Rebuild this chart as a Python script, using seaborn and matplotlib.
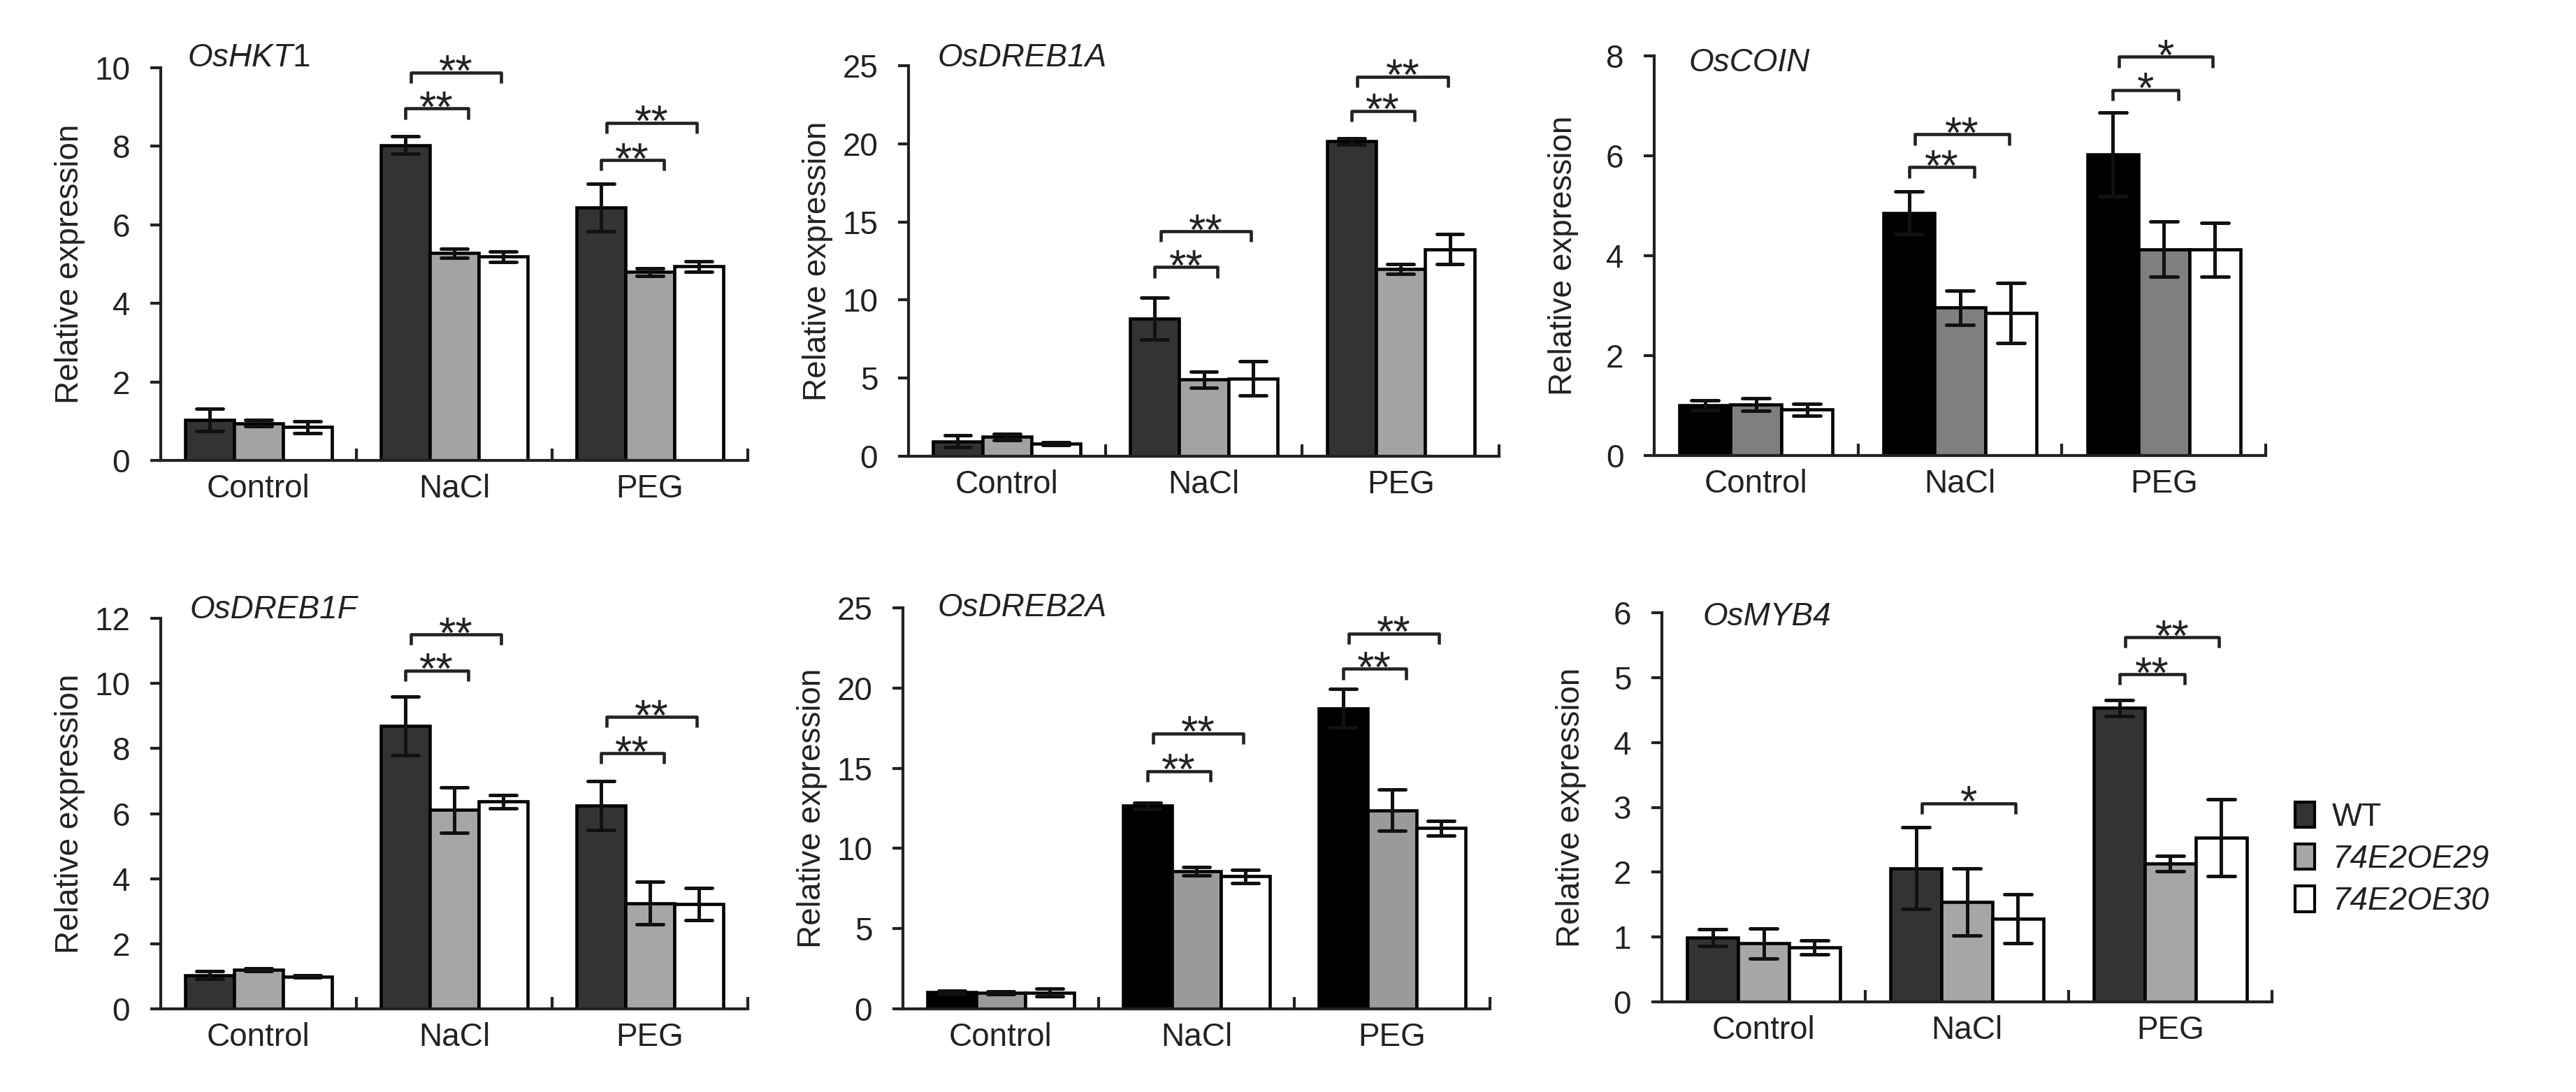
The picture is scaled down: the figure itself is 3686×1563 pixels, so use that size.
import numpy as np
import pandas as pd
import matplotlib
matplotlib.use("Agg")
import matplotlib.pyplot as plt
import seaborn as sns
from matplotlib.patches import Patch

# ---------------- data ----------------
conditions = ["Control", "NaCl", "PEG"]
lines = ["WT", "74E2OE29", "74E2OE30"]
genes = ["OsHKT1", "OsDREB1A", "OsCOIN", "OsDREB1F", "OsDREB2A", "OsMYB4"]
gene_titles = [r"$\mathit{OsHKT}$1", "OsDREB1A", "OsCOIN", "OsDREB1F", "OsDREB2A", "OsMYB4"]
y_tops = [10, 25, 8, 12, 25, 6]
y_steps = [2, 5, 2, 2, 5, 1]

# means[condition][line]
hkt1_mean = [[1.03, 0.95, 0.85], [8.03, 5.28, 5.19], [6.44, 4.80, 4.94]]
hkt1_err = [[0.29, 0.08, 0.15], [0.22, 0.12, 0.13], [0.60, 0.10, 0.13]]
dreb1a_mean = [[0.96, 1.25, 0.80], [8.80, 4.90, 4.97], [20.15, 11.98, 13.25]]
dreb1a_err = [[0.40, 0.20, 0.10], [1.35, 0.50, 1.10], [0.20, 0.30, 0.95]]
coin_mean = [[1.01, 1.02, 0.92], [4.86, 2.96, 2.85], [6.03, 4.13, 4.12]]
coin_err = [[0.10, 0.13, 0.12], [0.43, 0.34, 0.60], [0.84, 0.55, 0.54]]
dreb1f_mean = [[1.04, 1.20, 0.99], [8.70, 6.11, 6.37], [6.24, 3.25, 3.22]]
dreb1f_err = [[0.12, 0.05, 0.03], [0.90, 0.70, 0.20], [0.75, 0.65, 0.50]]
dreb2a_mean = [[1.05, 1.00, 1.02], [12.67, 8.59, 8.26], [18.74, 12.39, 11.26]]
dreb2a_err = [[0.08, 0.10, 0.25], [0.20, 0.25, 0.40], [1.20, 1.30, 0.45]]
myb4_mean = [[0.99, 0.90, 0.84], [2.06, 1.54, 1.28], [4.53, 2.13, 2.53]]
myb4_err = [[0.13, 0.23, 0.11], [0.63, 0.52, 0.38], [0.12, 0.12, 0.59]]

# significance: (condition index, compared line index, bracket height, label)
hkt1_sig = [(1, 1, 8.96, "**"), (1, 2, 9.88, "**"), (2, 1, 7.65, "**"), (2, 2, 8.60, "**")]
dreb1a_sig = [(1, 1, 12.1, "**"), (1, 2, 14.4, "**"), (2, 1, 22.1, "**"), (2, 2, 24.3, "**")]
coin_sig = [(1, 1, 5.77, "**"), (1, 2, 6.43, "**"), (2, 1, 7.32, "*"), (2, 2, 7.98, "*")]
dreb1f_sig = [(1, 1, 10.4, "**"), (1, 2, 11.5, "**"), (2, 1, 7.85, "**"), (2, 2, 8.97, "**")]
dreb2a_sig = [(1, 1, 14.83, "**"), (1, 2, 17.17, "**"), (2, 1, 21.2, "**"), (2, 2, 23.4, "**")]
myb4_sig = [(1, 2, 3.06, "*"), (2, 1, 5.05, "**"), (2, 2, 5.62, "**")]

means = [hkt1_mean, dreb1a_mean, coin_mean, dreb1f_mean, dreb2a_mean, myb4_mean]
errs = [hkt1_err, dreb1a_err, coin_err, dreb1f_err, dreb2a_err, myb4_err]
sigs = [hkt1_sig, dreb1a_sig, coin_sig, dreb1f_sig, dreb2a_sig, myb4_sig]

# ---------------- style / layout ----------------
W, H, DPI = 3686, 1563, 300
sns.set_theme(style="ticks")
plt.rcParams["font.family"] = ["Liberation Sans", "DejaVu Sans"]
plt.rcParams.update({
    "mathtext.fontset": "custom",
    "mathtext.it": "Liberation Sans:italic",
    "mathtext.rm": "Liberation Sans",
    "text.color": "#222222",
    "axes.labelcolor": "#222222",
    "xtick.color": "#222222",
    "ytick.color": "#222222",
})

# (left px, right px, y=0 px, y=top px)
layout = [
    (230, 1070, 659, 97),
    (1300, 2145, 653, 94),
    (2367, 3242, 652, 80),
    (230, 1070, 1444, 885),
    (1292, 2132, 1444, 870),
    (2378, 3251, 1434, 877),
]
title_pos = [(268, 95), (1342, 95), (2417, 102), (272, 885), (1342, 882), (2437, 895)]
palettes = [
    ["#333333", "#a3a3a6", "#ffffff"],
    ["#333333", "#a3a3a6", "#ffffff"],
    ["#000000", "#7f7f7f", "#ffffff"],
    ["#333333", "#a6a6a6", "#ffffff"],
    ["#000000", "#9a9a9a", "#ffffff"],
    ["#333333", "#a6a6a6", "#ffffff"],
]

fig = plt.figure(figsize=(W / DPI, H / DPI), dpi=DPI)

for i, gene in enumerate(genes):
    L, R, y0, yt = layout[i]
    ax = fig.add_axes([L / W, (H - y0) / H, (R - L) / W, (y0 - yt) / H])
    rows = []
    for ci, c in enumerate(conditions):
        for li, ln in enumerate(lines):
            m = means[i][ci][li]
            e = errs[i][ci][li]
            rows.append({"cond": c, "line": ln, "val": m - e})
            rows.append({"cond": c, "line": ln, "val": m + e})
    df = pd.DataFrame(rows)
    sns.barplot(
        data=df, x="cond", y="val", hue="line", order=conditions, hue_order=lines,
        palette=dict(zip(lines, palettes[i])), saturation=1, estimator="mean",
        errorbar=lambda v: (v.min(), v.max()), capsize=0.4,
        err_kws={"color": "#111111", "linewidth": 1.2},
        width=0.75, edgecolor="black", linewidth=1.1, legend=False, ax=ax,
    )
    top = y_tops[i]
    ax.set_xlim(-0.5, 2.5)
    ax.set_ylim(0, top)
    ax.set_facecolor("white")
    for s in ["top", "right"]:
        ax.spines[s].set_visible(False)
    for s in ["left", "bottom"]:
        ax.spines[s].set_linewidth(1.0)
        ax.spines[s].set_color("#222222")
    ax.set_yticks(np.arange(0, top + y_steps[i] / 2, y_steps[i]))
    ax.tick_params(axis="y", direction="out", length=3.5, width=1.0, pad=7, labelsize=11)
    ax.set_xticks([0, 1, 2])
    ax.set_xticklabels(conditions)
    ax.set_xticks([0.5, 1.5, 2.5], minor=True)
    ax.tick_params(axis="x", which="major", length=0, pad=4.5, labelsize=11)
    ax.tick_params(axis="x", which="minor", direction="in", length=4, width=1.0, bottom=True)
    ax.set_xlabel("")
    ax.set_ylabel("Relative expression", fontsize=11)
    ax.yaxis.set_label_coords(-108 / (R - L), 0.5)

    drop = 0.027 * top
    for ci, li, yb, lab in sigs[i]:
        if li == 1:
            x1, x2 = ci - 0.25, ci + 0.07
        else:
            x1, x2 = ci - 0.22, ci + 0.24
        ax.plot([x1, x1, x2, x2], [yb - drop, yb, yb, yb - drop], color="#222222",
                lw=1.1, clip_on=False, solid_capstyle="butt")
        ax.annotate(lab, xy=((x1 + x2) / 2, yb), xytext=(0, -4.4), textcoords="offset points",
                    ha="center", va="baseline", fontsize=15, annotation_clip=False)

    tx, ty = title_pos[i]
    if i == 0:
        fig.text(tx / W, 1 - ty / H, gene_titles[i], fontsize=11, va="baseline", ha="left")
    else:
        fig.text(tx / W, 1 - ty / H, gene_titles[i], fontsize=11, style="italic",
                 va="baseline", ha="left")

handles = [Patch(facecolor=c, edgecolor="black", linewidth=1.0) for c in palettes[5]]
leg = fig.legend(handles, lines, loc="center left", bbox_to_anchor=(3266 / W, 1 - 1230 / H),
                 frameon=False, fontsize=11, handlelength=0.6, handleheight=0.85,
                 handletextpad=0.55, labelspacing=0.35, borderpad=0.4, borderaxespad=0)
for t in leg.get_texts()[1:]:
    t.set_fontstyle("italic")

fig.savefig("out.png", dpi=DPI, facecolor="white")
